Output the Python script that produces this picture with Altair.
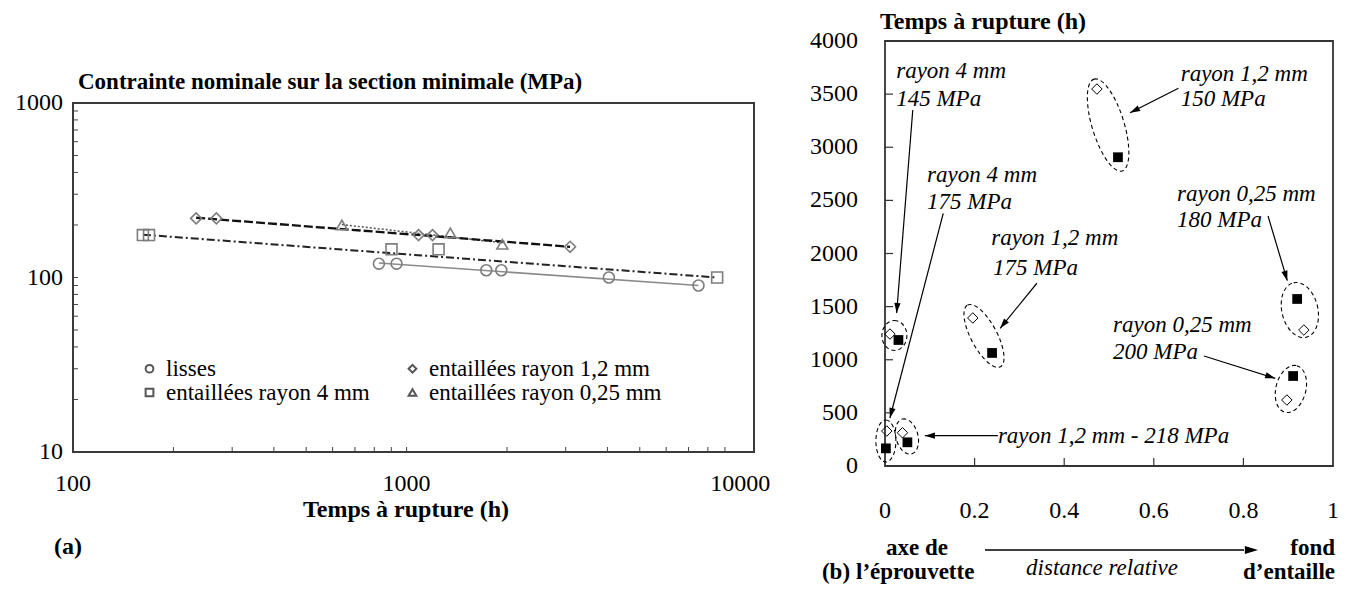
import math
import altair as alt
import pandas as pd

# ---------------- Panel (a) data : temps à rupture (h) / contrainte (MPa) ----------------
lisses_t = [826, 933, 1733, 1923, 4040, 7500]
lisses_s = [120, 120, 110, 110, 100, 90]
r4_t = [162, 169, 901, 1247, 8530]
r4_s = [175, 175, 145, 145, 100]
r12_t = [234, 269, 1086, 1196, 3090]
r12_s = [218, 218, 175, 175, 150]
r025_t = [640, 1352, 1936]
r025_s = [200, 180, 155]

fit_lisses_t = [826, 7500]
fit_lisses_s = [121, 90]
fit_r4_t = [162, 8530]
fit_r4_s = [176, 100]
fit_r12_t = [234, 3090]
fit_r12_s = [220, 150]
fit_r025_t = [640, 1936]
fit_r025_s = [201, 158]

# legend order (column by column): lisses, 4 mm | 1,2 mm, 0,25 mm
series_names = ["lisses", "entaillées rayon 4 mm", "entaillées rayon 1,2 mm", "entaillées rayon 0,25 mm"]
series_shapes = ["circle", "square", "diamond", "triangle-up"]

a_x_domain = [100, 11000]
a_y_domain = [10, 1000]
a_x_labels = [100, 1000, 10000]
a_y_labels = [10, 100, 1000]
a_x_ticks = [200, 300, 400, 500, 600, 700, 800, 900, 1000, 2000, 3000, 4000, 5000, 6000, 7000, 8000, 9000]
a_y_ticks = [20, 30, 40, 50, 60, 70, 80, 90, 100, 200, 300, 400, 500, 600, 700, 800, 900]

# ---------------- Panel (b) data : distance relative / temps à rupture (h) ----------------
diam_d = [0.011, 0.004, 0.039, 0.196, 0.473, 0.935, 0.897]
diam_h = [1242, 329, 313, 1393, 3548, 1280, 621]
sq_d = [0.030, 0.002, 0.050, 0.239, 0.520, 0.920, 0.911]
sq_h = [1186, 166, 223, 1064, 2906, 1572, 847]

grp_d = [0.021, 0.002, 0.049, 0.221, 0.498, 0.926, 0.906]
grp_h = [1228, 235, 278, 1224, 3209, 1468, 725]

arr_d1 = [0.062, 0.130, 0.339, 0.655, 0.855, 0.712, 0.252]
arr_h1 = [3351, 2378, 1720, 3555, 2353, 1035, 285]
arr_d2 = [0.026, 0.011, 0.257, 0.547, 0.898, 0.871, 0.089]
arr_h2 = [1440, 452, 1296, 3325, 1744, 825, 285]

ann_text = ["rayon 4 mm", "145 MPa", "rayon 4 mm", "175 MPa", "rayon 1,2 mm", "175 MPa",
            "rayon 1,2 mm", "150 MPa", "rayon 0,25 mm", "180 MPa", "rayon 0,25 mm", "200 MPa",
            "rayon 1,2 mm - 218 MPa"]
ann_d = [0.025, 0.025, 0.094, 0.094, 0.237, 0.241, 0.660, 0.660, 0.652, 0.652, 0.509, 0.509, 0.252]
ann_h = [3718, 3454, 2739, 2485, 2146, 1864, 3689, 3454, 2560, 2315, 1327, 1073, 285]

b_x_domain = [0, 1]
b_y_domain = [0, 4000]
b_x_labels = [0, 0.2, 0.4, 0.6, 0.8, 1]
b_y_labels = [0, 500, 1000, 1500, 2000, 2500, 3000, 3500, 4000]
b_x_ticks = [0.2, 0.4, 0.6, 0.8]
b_y_ticks = [500, 1000, 1500, 2000, 2500, 3000, 3500]

# ---------------- layout / styles (canvas pixels) ----------------
SERIF = "Liberation Serif"
CANVAS_W, CANVAS_H = 1346, 578
A_X0, A_X1, A_Y0, A_Y1 = 65, 746, 444, 95      # panel (a) plot box
B_X0, B_X1, B_Y0, B_Y1 = 877, 1325, 458, 33     # panel (b) plot box
ARROW = "M 0 0 L 0.75 2.4 L -0.75 2.4 Z"
FS = 24


def ellipse_path(w, h):
    m = max(w, h)
    a, b = w / m, h / m
    k = 0.5523
    return (f"M 0 {-b} C {k*a:.3f} {-b} {a} {-k*b:.3f} {a} 0 "
            f"C {a} {k*b:.3f} {k*a:.3f} {b} 0 {b} "
            f"C {-k*a:.3f} {b} {-a} {k*b:.3f} {-a} 0 "
            f"C {-a} {-k*b:.3f} {-k*a:.3f} {-b} 0 {-b} Z")


ell_style = [(25, 30, 0), (20, 42, 0), (22, 36, 345), (26, 70, 332),
             (32, 96, 343), (36, 56, 347), (30, 48, 14)]


def px_text(txt, x, y, align="center", **kw):
    return alt.Chart(pd.DataFrame({"l": [txt]})).mark_text(
        align=align, baseline="middle", color="black", **kw).encode(
        text="l:N", x=alt.value(x), y=alt.value(y))


bold = dict(font=SERIF, fontSize=FS, fontWeight="bold")
ital = dict(font=SERIF, fontStyle="italic", fontSize=23)

# ================= Panel (a) =================
xs_a = alt.Scale(type="log", domain=a_x_domain, range=[A_X0, A_X1], nice=False)
ys_a = alt.Scale(type="log", domain=a_y_domain, range=[A_Y0, A_Y1], nice=False)
x_a = alt.X("t:Q", scale=xs_a, axis=None)
y_a = alt.Y("s:Q", scale=ys_a, axis=None)

rows = []
for name, ts, ss in [("lisses", lisses_t, lisses_s), ("entaillées rayon 4 mm", r4_t, r4_s),
                     ("entaillées rayon 1,2 mm", r12_t, r12_s), ("entaillées rayon 0,25 mm", r025_t, r025_s)]:
    rows += [{"t": t, "s": s, "serie": name} for t, s in zip(ts, ss)]
df_a = pd.DataFrame(rows)

frame_a = alt.Chart(pd.DataFrame({"t": [a_x_domain[0]], "t2": [a_x_domain[1]],
                                  "s": [a_y_domain[0]], "s2": [a_y_domain[1]]})).mark_rect(
    filled=False, stroke="#3a3a3a", strokeWidth=2).encode(x=x_a, x2="t2:Q", y=y_a, y2="s2:Q")

points_a = alt.Chart(df_a).mark_point(filled=False, size=120, strokeWidth=1.6, color="#7d7d7d", opacity=1).encode(
    x=x_a, y=y_a,
    shape=alt.Shape("serie:N", sort=series_names,
                    scale=alt.Scale(domain=series_names, range=series_shapes),
                    legend=alt.Legend(orient="none", legendX=130, legendY=349, columns=2, title=None,
                                      labelFont=SERIF, labelFontSize=23, labelColor="black", labelLimit=400,
                                      symbolSize=60, symbolStrokeWidth=2, symbolStrokeColor="#555",
                                      columnPadding=31, rowPadding=-3, labelOffset=5, padding=0)))


def fit_line(ts, ss, **kw):
    return alt.Chart(pd.DataFrame({"t": ts, "s": ss})).mark_line(**kw).encode(x=x_a, y=y_a)


lines_a = [
    fit_line(fit_lisses_t, fit_lisses_s, color="#8a8a8a", strokeWidth=1.6),
    fit_line(fit_r4_t, fit_r4_s, color="#222", strokeWidth=2, strokeDash=[8, 3, 2, 3]),
    fit_line(fit_r025_t, fit_r025_s, color="#555", strokeWidth=1.5, strokeDash=[2, 2]),
    fit_line(fit_r12_t, fit_r12_s, color="#111", strokeWidth=2.3, strokeDash=[9, 3]),
]

tick_x_a = alt.Chart(pd.DataFrame({"t": a_x_ticks})).mark_rule(color="#444", strokeWidth=1).encode(
    x=x_a, y=alt.value(A_Y0), y2=alt.value(A_Y0 - 5))
tick_y_a = alt.Chart(pd.DataFrame({"s": a_y_ticks})).mark_rule(color="#444", strokeWidth=1).encode(
    y=y_a, x=alt.value(A_X0), x2=alt.value(A_X0 + 5))

xlab_a = alt.Chart(pd.DataFrame({"t": a_x_labels})).mark_text(
    font=SERIF, fontSize=FS, align="center", baseline="middle", color="black").encode(
    x=x_a, y=alt.value(A_Y0 + 32), text=alt.Text("t:Q", format="d"))
ylab_a = alt.Chart(pd.DataFrame({"s": a_y_labels})).mark_text(
    font=SERIF, fontSize=FS, align="right", baseline="middle", color="black").encode(
    y=y_a, x=alt.value(A_X0 - 10), text=alt.Text("s:Q", format="d"))

texts_a = [
    px_text("Contrainte nominale sur la section minimale (MPa)", A_X0 + 5, A_Y1 - 21, align="left",
            font=SERIF, fontSize=23, fontWeight="bold"),
    px_text("Temps à rupture (h)", 398, A_Y0 + 58, **bold),
    px_text("(a)", 60, A_Y0 + 95, **bold),
]

panel_a = alt.layer(frame_a, tick_x_a, tick_y_a, *lines_a, points_a, xlab_a, ylab_a, *texts_a)

# ================= Panel (b) =================
xs_b = alt.Scale(domain=b_x_domain, range=[B_X0, B_X1], nice=False, zero=False)
ys_b = alt.Scale(domain=b_y_domain, range=[B_Y0, B_Y1], nice=False)
x_b = alt.X("d:Q", scale=xs_b, axis=None)
y_b = alt.Y("h:Q", scale=ys_b, axis=None)

frame_b = alt.Chart(pd.DataFrame({"d": [b_x_domain[0]], "d2": [b_x_domain[1]],
                                  "h": [b_y_domain[0]], "h2": [b_y_domain[1]]})).mark_rect(
    filled=False, stroke="#333", strokeWidth=1.8).encode(x=x_b, x2="d2:Q", y=y_b, y2="h2:Q")

tick_x_b = alt.Chart(pd.DataFrame({"d": b_x_ticks})).mark_rule(color="#333", strokeWidth=1.2).encode(
    x=x_b, y=alt.value(B_Y0), y2=alt.value(B_Y0 - 8))
tick_y_b = alt.Chart(pd.DataFrame({"h": b_y_ticks})).mark_rule(color="#333", strokeWidth=1.2).encode(
    y=y_b, x=alt.value(B_X0), x2=alt.value(B_X0 + 8))

xlab_b = alt.Chart(pd.DataFrame({"d": b_x_labels})).mark_text(
    font=SERIF, fontSize=FS, align="center", baseline="middle", color="black").encode(
    x=x_b, y=alt.value(B_Y0 + 45), text=alt.Text("d:Q", format="~g"))
ylab_b = alt.Chart(pd.DataFrame({"h": b_y_labels})).mark_text(
    font=SERIF, fontSize=FS, align="right", baseline="middle", color="black").encode(
    y=y_b, x=alt.value(B_X0 - 27), text=alt.Text("h:Q", format="d"))

ellipses = []
for (cd, ch, (w, h, ang)) in zip(grp_d, grp_h, ell_style):
    ellipses.append(alt.Chart(pd.DataFrame({"d": [cd], "h": [ch]})).mark_point(
        shape=ellipse_path(w, h), size=max(w, h) ** 2, angle=ang, filled=False,
        color="black", strokeWidth=1.1, strokeDash=[4, 3], opacity=1).encode(x=x_b, y=y_b))

diamonds_b = alt.Chart(pd.DataFrame({"d": diam_d, "h": diam_h})).mark_point(
    shape="diamond", size=110, filled=False, color="black", strokeWidth=1, opacity=1).encode(x=x_b, y=y_b)
squares_b = alt.Chart(pd.DataFrame({"d": sq_d, "h": sq_h})).mark_point(
    shape="square", size=95, filled=True, color="black", opacity=1).encode(x=x_b, y=y_b)

arrows_b = alt.Chart(pd.DataFrame({"d": arr_d1, "h": arr_h1, "d2": arr_d2, "h2": arr_h2})).mark_rule(
    color="black", strokeWidth=1.2).encode(x=x_b, y=y_b, x2="d2:Q", y2="h2:Q")

angles = []
for d1, h1, d2, h2 in zip(arr_d1, arr_h1, arr_d2, arr_h2):
    dx = (d2 - d1) * (B_X1 - B_X0)
    dy = -(h2 - h1) * (B_Y0 - B_Y1) / (b_y_domain[1] - b_y_domain[0])
    angles.append(math.degrees(math.atan2(dx, -dy)) % 360)
heads_b = alt.Chart(pd.DataFrame({"d": arr_d2, "h": arr_h2, "ang": angles})).mark_point(
    shape=ARROW, size=70, filled=True, color="black", opacity=1).encode(
    x=x_b, y=y_b, angle=alt.Angle("ang:Q", scale=None))

ann_b = alt.Chart(pd.DataFrame({"d": ann_d, "h": ann_h, "txt": ann_text})).mark_text(
    align="left", baseline="middle", color="black", **ital).encode(
    x=x_b, y=y_b, text="txt:N")

bold23 = dict(font=SERIF, fontSize=23, fontWeight="bold")
texts_b = [
    px_text("Temps à rupture (h)", B_X0 - 5, 14, align="left", **bold),
    px_text("axe de", 909, 540, **bold23),
    px_text("l’éprouvette", 848, 564, align="left", **bold23),
    px_text("(b)", 828, 564, **bold23),
    px_text("fond", 1327, 540, align="right", **bold23),
    px_text("d’entaille", 1327, 564, align="right", **bold23),
    px_text("distance relative", 1094, 560, **ital),
]
bottom_arrow = alt.Chart(pd.DataFrame({"k": [0]})).mark_rule(color="black", strokeWidth=1.3).encode(
    x=alt.value(977), x2=alt.value(1236), y=alt.value(542))
bottom_head = alt.Chart(pd.DataFrame({"k": [0]})).mark_point(
    shape=ARROW, size=120, filled=True, color="black", opacity=1, angle=90).encode(
    x=alt.value(1250), y=alt.value(542))

panel_b = alt.layer(frame_b, tick_x_b, tick_y_b, xlab_b, ylab_b, *ellipses, diamonds_b, squares_b,
                    arrows_b, heads_b, ann_b, *texts_b, bottom_arrow, bottom_head)

chart = alt.layer(panel_a, panel_b).resolve_scale(x="independent", y="independent").properties(
    width=CANVAS_W, height=CANVAS_H, autosize=alt.AutoSizeParams(type="none"), padding=0
).configure_view(stroke=None)

chart.save("out.html", embed_options={"renderer": "svg", "actions": False})
